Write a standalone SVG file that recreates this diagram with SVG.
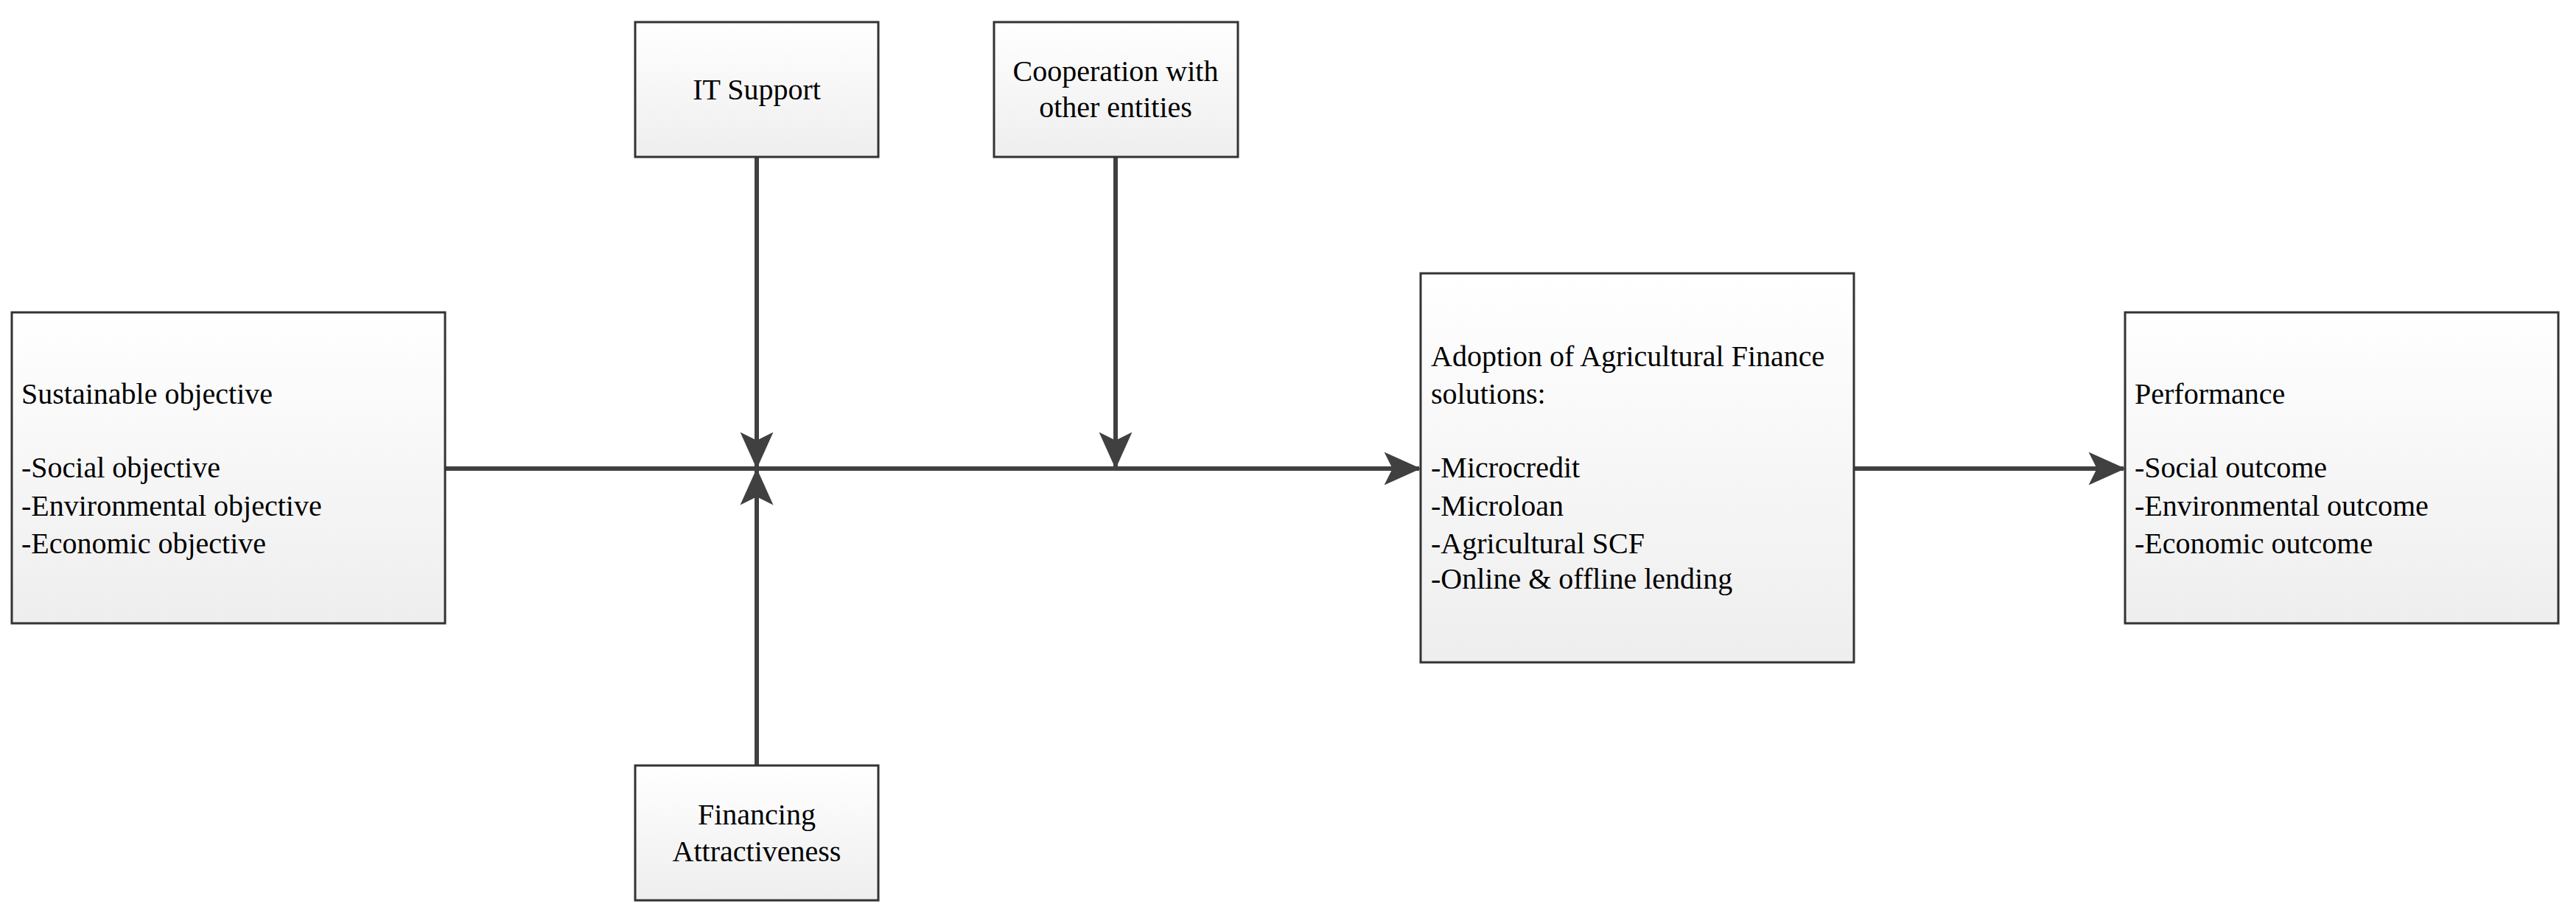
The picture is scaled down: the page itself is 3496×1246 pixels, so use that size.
<svg xmlns="http://www.w3.org/2000/svg" width="3496" height="1246" viewBox="0 0 3496 1246">
<style>
.box{fill:url(#g);stroke:#333;stroke-width:3}
.t{font-family:"Liberation Serif","Times New Roman",serif;font-size:40px;fill:#000}
.c{text-anchor:middle}
.ln{stroke:#404040;stroke-width:6;fill:none;marker-end:url(#ah)}
</style>
<defs>
<linearGradient id="g" x1="0" y1="0" x2="0" y2="1"><stop offset="0" stop-color="#ffffff"/><stop offset="1" stop-color="#eeeeee"/></linearGradient>
<marker id="ah" markerUnits="userSpaceOnUse" markerWidth="50" markerHeight="50" viewBox="0 0 40 40" refX="38" refY="20" orient="auto">
<path d="M0,2 L40,20 L0,38 L9,20 Z" fill="#404040"/>
</marker>
</defs>
<rect width="3496" height="1246" fill="#fff"/>
<g id="connectors">
<path class="ln" d="M604,636 H1926"/>
<path class="ln" d="M1027,213 V634"/>
<path class="ln" d="M1027,1039 V638"/>
<path class="ln" d="M1514,213 V634"/>
<path class="ln" d="M2516,636 H2882"/>
</g>
<g id="sustainable"><rect class="box" x="16" y="424" width="588" height="422"/>
<text class="t" x="29" y="548">Sustainable objective</text>
<text class="t" x="29" y="648">-Social objective</text>
<text class="t" x="29" y="700">-Environmental objective</text>
<text class="t" x="29" y="751">-Economic objective</text></g>
<g id="it"><rect class="box" x="862" y="30" width="330" height="183"/>
<text class="t c" x="1027" y="135">IT Support</text></g>
<g id="coop"><rect class="box" x="1349" y="30" width="331" height="183"/>
<text class="t c" x="1514" y="110">Cooperation with</text>
<text class="t c" x="1514" y="159">other entities</text></g>
<g id="financing"><rect class="box" x="862" y="1039" width="330" height="183"/>
<text class="t c" x="1027" y="1119">Financing</text>
<text class="t c" x="1027" y="1169">Attractiveness</text></g>
<g id="adoption"><rect class="box" x="1928" y="371" width="588" height="528"/>
<text class="t" x="1942" y="497">Adoption of Agricultural Finance</text>
<text class="t" x="1942" y="548">solutions:</text>
<text class="t" x="1942" y="648">-Microcredit</text>
<text class="t" x="1942" y="700">-Microloan</text>
<text class="t" x="1942" y="751">-Agricultural SCF</text>
<text class="t" x="1942" y="799">-Online &amp; offline lending</text></g>
<g id="performance"><rect class="box" x="2884" y="424" width="588" height="422"/>
<text class="t" x="2897" y="548">Performance</text>
<text class="t" x="2897" y="648">-Social outcome</text>
<text class="t" x="2897" y="700">-Environmental outcome</text>
<text class="t" x="2897" y="751">-Economic outcome</text></g>
</svg>
